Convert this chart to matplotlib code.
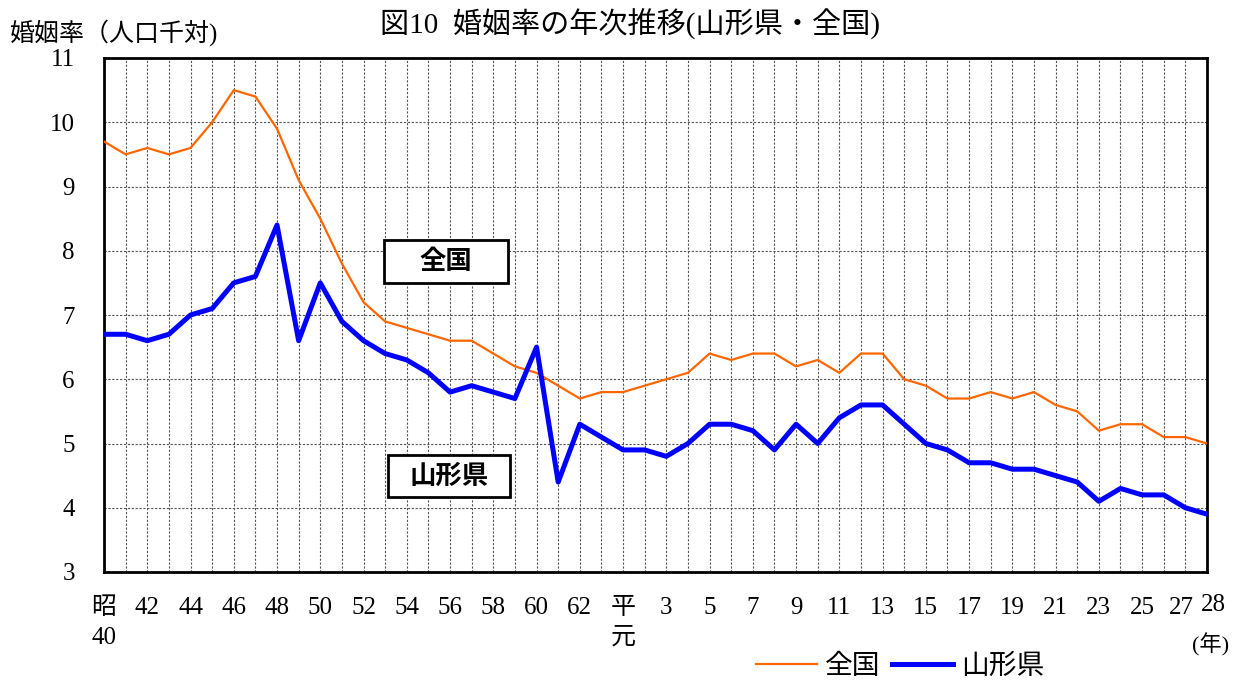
import numpy as np
import matplotlib
matplotlib.use('Agg')
import matplotlib.pyplot as plt
from matplotlib.patches import Rectangle
from matplotlib.transforms import ScaledTranslation

plt.rcParams['font.family'] = ['Liberation Serif', 'Noto Sans CJK JP', 'DejaVu Sans']

# 年次ラベル (昭和40年～平成28年)
tick_labels = ['昭\n40', '42', '44', '46', '48', '50', '52', '54', '56', '58', '60', '62',
               '平\n元', '3', '5', '7', '9', '11', '13', '15', '17', '19', '21', '23', '25', '27', '28']

# 婚姻率 (人口千対)
zenkoku = [9.7, 9.5, 9.6, 9.5, 9.6, 10.0, 10.5, 10.4, 9.9, 9.1,
           8.5, 7.8, 7.2, 6.9, 6.8, 6.7, 6.6, 6.6, 6.4, 6.2,
           6.1, 5.9, 5.7, 5.8, 5.8, 5.9, 6.0, 6.1, 6.4, 6.3,
           6.4, 6.4, 6.2, 6.3, 6.1, 6.4, 6.4, 6.0, 5.9, 5.7,
           5.7, 5.8, 5.7, 5.8, 5.6, 5.5, 5.2, 5.3, 5.3, 5.1,
           5.1, 5.0]
yamagata = [6.7, 6.7, 6.6, 6.7, 7.0, 7.1, 7.5, 7.6, 8.4, 6.6,
            7.5, 6.9, 6.6, 6.4, 6.3, 6.1, 5.8, 5.9, 5.8, 5.7,
            6.5, 4.4, 5.3, 5.1, 4.9, 4.9, 4.8, 5.0, 5.3, 5.3,
            5.2, 4.9, 5.3, 5.0, 5.4, 5.6, 5.6, 5.3, 5.0, 4.9,
            4.7, 4.7, 4.6, 4.6, 4.5, 4.4, 4.1, 4.3, 4.2, 4.2,
            4.0, 3.9]

x = np.arange(len(zenkoku))
n = len(x)

fig = plt.figure(figsize=(12.4, 6.86), dpi=100)
ax = fig.add_axes([104 / 1240, 1 - 572 / 686, 1103 / 1240, 514 / 686])

ax.plot(x, zenkoku, color='#FF6600', linewidth=1.6, label='全国', zorder=3)
ax.plot(x, yamagata, color='#0000FF', linewidth=3.6, label='山形県', zorder=4)

ax.set_xlim(0, n - 1)
ax.set_ylim(3, 11)
ax.set_yticks(range(3, 12))
ax.set_yticklabels([str(v) for v in range(3, 12)], fontsize=18)
ax.tick_params(axis='y', length=0, pad=21)

ax.set_xticks(x, minor=True)
ax.set_xticks(list(range(0, n - 1, 2)) + [n - 1])
ax.set_xticklabels(tick_labels, fontsize=18, linespacing=1.45, va='top')
ax.tick_params(axis='x', which='both', length=0, pad=18)
# 27 と 28 が重ならないよう少しずらす
lbls = ax.get_xticklabels()
lbls[-2].set_transform(lbls[-2].get_transform() + ScaledTranslation(-4 / 100, 0, fig.dpi_scale_trans))
lbls[-1].set_transform(lbls[-1].get_transform() + ScaledTranslation(6 / 100, 3 / 100, fig.dpi_scale_trans))
ax.text(1.003, -0.142, '(年)', transform=ax.transAxes, fontsize=16, ha='center', va='center')

ax.grid(True, which='both', axis='x', color='#555555', linestyle=(0, (2, 1.5)), linewidth=0.8)
ax.grid(True, which='major', axis='y', color='#555555', linestyle=(0, (2, 1.5)), linewidth=0.8)
for s in ax.spines.values():
    s.set_linewidth(2)

# 注記ボックス
ax.add_patch(Rectangle((12.95, 7.50), 5.73, 0.67, facecolor='white', edgecolor='black',
                       linewidth=2, zorder=5))
ax.text(15.81, 7.83, '全国', fontsize=19, fontweight='bold', ha='center', va='center',
        family=['Noto Sans CJK JP'], zorder=6)
ax.add_patch(Rectangle((13.13, 4.17), 5.64, 0.65, facecolor='white', edgecolor='black',
                       linewidth=2, zorder=5))
ax.text(15.95, 4.49, '山形県', fontsize=19, fontweight='bold', ha='center', va='center',
        family=['Noto Sans CJK JP'], zorder=6)

fig.text(0.508, 0.965, '図10  婚姻率の年次推移(山形県・全国)', fontsize=21, ha='center', va='center')
fig.text(0.008, 0.952, '婚姻率（人口千対)', fontsize=18, ha='left', va='center')

fig.legend(loc='center', bbox_to_anchor=(0.726, 0.027), ncol=2, frameon=False, fontsize=20,
           handlelength=2.2, handletextpad=0.3, columnspacing=0.4, borderaxespad=0)

fig.savefig('out.png', dpi=100)
